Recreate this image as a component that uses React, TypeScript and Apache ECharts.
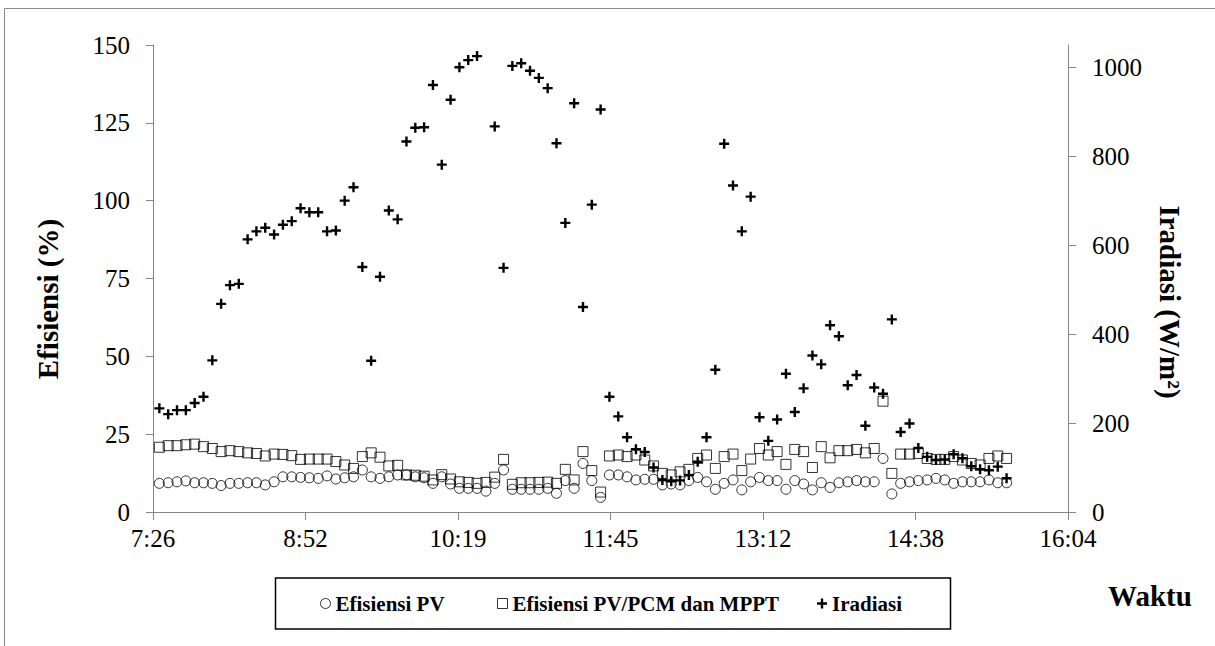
import React, { useEffect, useRef } from "react";
import * as echarts from "echarts";

// Measurement times (one reading every 5 minutes)
const times: string[] = [
  "7:30", "7:35", "7:40", "7:45", "7:50", "7:55",
  "8:00", "8:05", "8:10", "8:15", "8:20", "8:25", "8:30", "8:35", "8:40", "8:45", "8:50", "8:55",
  "9:00", "9:05", "9:10", "9:15", "9:20", "9:25", "9:30", "9:35", "9:40", "9:45", "9:50", "9:55",
  "10:00", "10:05", "10:10", "10:15", "10:20", "10:25", "10:30", "10:35", "10:40", "10:45", "10:50", "10:55",
  "11:00", "11:05", "11:10", "11:15", "11:20", "11:25", "11:30", "11:35", "11:40", "11:45", "11:50", "11:55",
  "12:00", "12:05", "12:10", "12:15", "12:20", "12:25", "12:30", "12:35", "12:40", "12:45", "12:50", "12:55",
  "13:00", "13:05", "13:10", "13:15", "13:20", "13:25", "13:30", "13:35", "13:40", "13:45", "13:50", "13:55",
  "14:00", "14:05", "14:10", "14:15", "14:20", "14:25", "14:30", "14:35", "14:40", "14:45", "14:50", "14:55",
  "15:00", "15:05", "15:10", "15:15", "15:20", "15:25", "15:30",
];

// Efisiensi PV (%)
const efisiensiPV: number[] = [
  9.2, 9.4, 9.7, 10.0, 9.4, 9.4, 9.2, 8.5, 9.2, 9.2,
  9.4, 9.4, 8.7, 9.7, 11.3, 11.3, 11.1, 11.0, 10.8, 11.6,
  10.6, 11.0, 11.3, 13.5, 11.3, 10.8, 11.3, 11.9, 11.9, 11.3,
  11.0, 9.2, 11.3, 9.0, 7.6, 7.6, 7.6, 6.7, 9.2, 13.5,
  7.3, 7.3, 7.3, 7.3, 7.6, 6.0, 10.1, 7.6, 15.6, 10.1,
  4.7, 11.9, 11.9, 11.3, 10.3, 10.5, 10.5, 8.7, 9.0, 8.7,
  10.1, 11.1, 9.7, 7.3, 9.2, 10.3, 7.1, 9.7, 11.1, 10.1,
  10.1, 7.3, 10.1, 9.0, 7.1, 9.4, 7.9, 9.4, 9.7, 10.1,
  9.7, 9.7, 17.2, 5.8, 9.2, 9.7, 10.1, 10.3, 10.8, 10.3,
  9.2, 9.7, 9.7, 9.7, 10.3, 9.4, 9.4,
];

// Efisiensi PV/PCM dan MPPT (%)
const efisiensiPCM: number[] = [
  20.8, 21.3, 21.3, 21.6, 21.8, 21.0, 20.4, 19.4, 19.7, 19.4,
  19.0, 18.8, 18.0, 18.6, 18.5, 18.1, 16.9, 17.0, 17.0, 17.0,
  16.2, 15.1, 14.0, 17.8, 19.0, 17.6, 14.8, 15.0, 11.9, 11.8,
  11.5, 10.3, 12.0, 10.6, 9.7, 9.5, 9.2, 9.5, 11.2, 16.9,
  8.9, 9.4, 9.4, 9.5, 9.6, 9.2, 13.7, 10.3, 19.4, 13.3,
  6.4, 18.0, 18.3, 17.8, 18.3, 16.7, 14.8, 12.4, 11.9, 12.9,
  13.7, 17.2, 18.3, 14.0, 17.8, 18.6, 13.3, 17.0, 20.4, 18.3,
  19.4, 15.3, 20.1, 19.4, 14.3, 21.0, 17.4, 19.7, 19.7, 20.1,
  19.0, 20.4, 35.6, 12.4, 18.6, 18.6, 18.8, 17.2, 16.9, 16.9,
  17.8, 16.7, 15.6, 15.1, 17.2, 18.0, 17.2,
];

// Iradiasi (W/m2); null = no visible reading
const iradiasi: (number | null)[] = [
  233, 220, 229, 229, 245, 259, 341, 468, 510, 513,
  613, 631, 639, 624, 646, 654, 683, 674, 674, 631,
  633, 700, 730, 551, 340, 529, 678, 658, 833, 864,
  865, 960, 781, 927, 1000, 1016, 1025, null, 867, 549,
  1003, 1009, 992, 976, 953, 829, 650, 919, 461, 691,
  905, 259, 215, 168, 141, 135, 100, 72, 69, 71,
  83, 113, 168, 320, 828, 734, 631, 709, 213, 160,
  208, 311, 225, 278, 352, 332, 420, 395, 285, 308,
  194, 280, 266, 433, 180, 199, 144, 124, 117, 118,
  130, 121, 103, 96, 94, 102, 76,
];

const leftTicks = [0, 25, 50, 75, 100, 125, 150];
const rightTicks = [0, 200, 400, 600, 800, 1000];

// x axis starts at 7:26.4 (0.31 day) and steps 86.4 min (0.06 day)
const AXIS_START_MIN = 7 * 60 + 26.4;
const AXIS_STEP_MIN = 86.4;
const AXIS_STEPS = 6;

const toX = (t: string) => {
  const [h, m] = t.split(":").map(Number);
  return h * 60 + m - AXIS_START_MIN;
};

const fmtTime = (v: number) => {
  const total = AXIS_START_MIN + v + 1e-6;
  const h = Math.floor(total / 60);
  const m = Math.floor(total - h * 60);
  return h + ":" + (m < 10 ? "0" + m : String(m));
};

const PLUS = "path://M3.8,0H6.2V3.8H10V6.2H6.2V10H3.8V6.2H0V3.8H3.8Z";
const FONT = "'Liberation Serif', 'Times New Roman', serif";

export default function App() {
  const ref = useRef<HTMLDivElement>(null);

  useEffect(() => {
    if (!ref.current) return;
    const chart = echarts.init(ref.current, undefined, { renderer: "svg" });

    const axisLineStyle = { color: "#868686", width: 1 };
    const labelStyle = { color: "#000", fontSize: 25, fontFamily: FONT };
    const hollow = { color: "rgba(0,0,0,0)", borderColor: "#000", borderWidth: 1 };

    const pvData = times.map((t, i) => [toX(t), efisiensiPV[i]]);
    const pcmData = times.map((t, i) => [toX(t), efisiensiPCM[i]]);
    const irData = times
      .map((t, i) => [toX(t), iradiasi[i]])
      .filter((d) => d[1] !== null);

    const legendText = { color: "#000", fontSize: 21, fontWeight: "bold", fontFamily: FONT };

    chart.setOption({
      animation: false,
      backgroundColor: "#fff",
      textStyle: { fontFamily: FONT },
      grid: { left: 153, right: 147, top: 45, bottom: 134 },
      xAxis: {
        type: "value",
        min: 0,
        max: AXIS_STEP_MIN * AXIS_STEPS,
        interval: AXIS_STEP_MIN,
        axisLine: { show: true, lineStyle: axisLineStyle },
        axisTick: { show: true, length: 8, lineStyle: axisLineStyle },
        splitLine: { show: false },
        axisLabel: { ...labelStyle, margin: 14, formatter: (v: number) => fmtTime(v) },
      },
      yAxis: [
        {
          type: "value",
          position: "left",
          min: 0,
          max: 150,
          interval: 25,
          axisLine: { show: true, lineStyle: axisLineStyle },
          axisTick: { show: true, length: 7, lineStyle: axisLineStyle, customValues: leftTicks },
          splitLine: { show: false },
          axisLabel: { ...labelStyle, margin: 23, customValues: leftTicks, formatter: (v: number) => String(v) },
        },
        {
          type: "value",
          position: "right",
          min: 0,
          max: 1050,
          axisLine: { show: true, lineStyle: axisLineStyle },
          axisTick: { show: true, length: 8, lineStyle: axisLineStyle, customValues: rightTicks },
          splitLine: { show: false },
          axisLabel: { ...labelStyle, margin: 24, customValues: rightTicks, formatter: (v: number) => String(v) },
        },
      ],
      legend: [
        {
          left: 320, top: 593, padding: 0, itemWidth: 10, itemHeight: 10, selectedMode: false,
          itemStyle: hollow, textStyle: legendText,
          data: [{ name: "Efisiensi PV", icon: "circle" }],
        },
        {
          left: 497, top: 593, padding: 0, itemWidth: 10, itemHeight: 10, selectedMode: false,
          itemStyle: hollow, textStyle: legendText,
          data: [{ name: "Efisiensi PV/PCM dan MPPT", icon: "rect" }],
        },
        {
          left: 817, top: 593, padding: 0, itemWidth: 10, itemHeight: 10, selectedMode: false,
          itemStyle: { color: "#000", borderWidth: 0 }, textStyle: legendText,
          data: [{ name: "Iradiasi", icon: PLUS }],
        },
      ],
      graphic: [
        {
          type: "rect", silent: true,
          shape: { x: 4.5, y: 8.5, width: 1300, height: 800 },
          style: { fill: "none", stroke: "#8a8a8a", lineWidth: 1 },
        },
        {
          type: "rect", silent: true,
          shape: { x: 275.5, y: 578, width: 675, height: 51 },
          style: { fill: "none", stroke: "#000", lineWidth: 1.5 },
        },
        {
          type: "text", x: 47.5, y: 299, rotation: Math.PI / 2,
          style: { text: "Efisiensi (%)", fill: "#000", fontSize: 29, fontWeight: "bold", fontFamily: FONT, align: "center", verticalAlign: "middle" },
        },
        {
          type: "text", x: 1170, y: 302, rotation: -Math.PI / 2,
          style: { text: "Iradiasi (W/m²)", fill: "#000", fontSize: 29, fontWeight: "bold", fontFamily: FONT, align: "center", verticalAlign: "middle" },
        },
        {
          type: "text", x: 1150, y: 596,
          style: { text: "Waktu", fill: "#000", fontSize: 29, fontWeight: "bold", fontFamily: FONT, align: "center", verticalAlign: "middle" },
        },
      ],
      series: [
        {
          name: "Efisiensi PV", type: "scatter", yAxisIndex: 0,
          symbol: "circle", symbolSize: 10, itemStyle: hollow, data: pvData,
        },
        {
          name: "Efisiensi PV/PCM dan MPPT", type: "scatter", yAxisIndex: 0,
          symbol: "rect", symbolSize: 10, itemStyle: hollow, data: pcmData,
        },
        {
          name: "Iradiasi", type: "scatter", yAxisIndex: 1,
          symbol: PLUS, symbolSize: 10, itemStyle: { color: "#000", opacity: 1 }, data: irData,
        },
      ],
    });

    return () => chart.dispose();
  }, []);

  return (
    <div
      ref={ref}
      style={{ position: "fixed", left: 0, top: 0, width: 1215, height: 646, background: "#fff" }}
    />
  );
}
